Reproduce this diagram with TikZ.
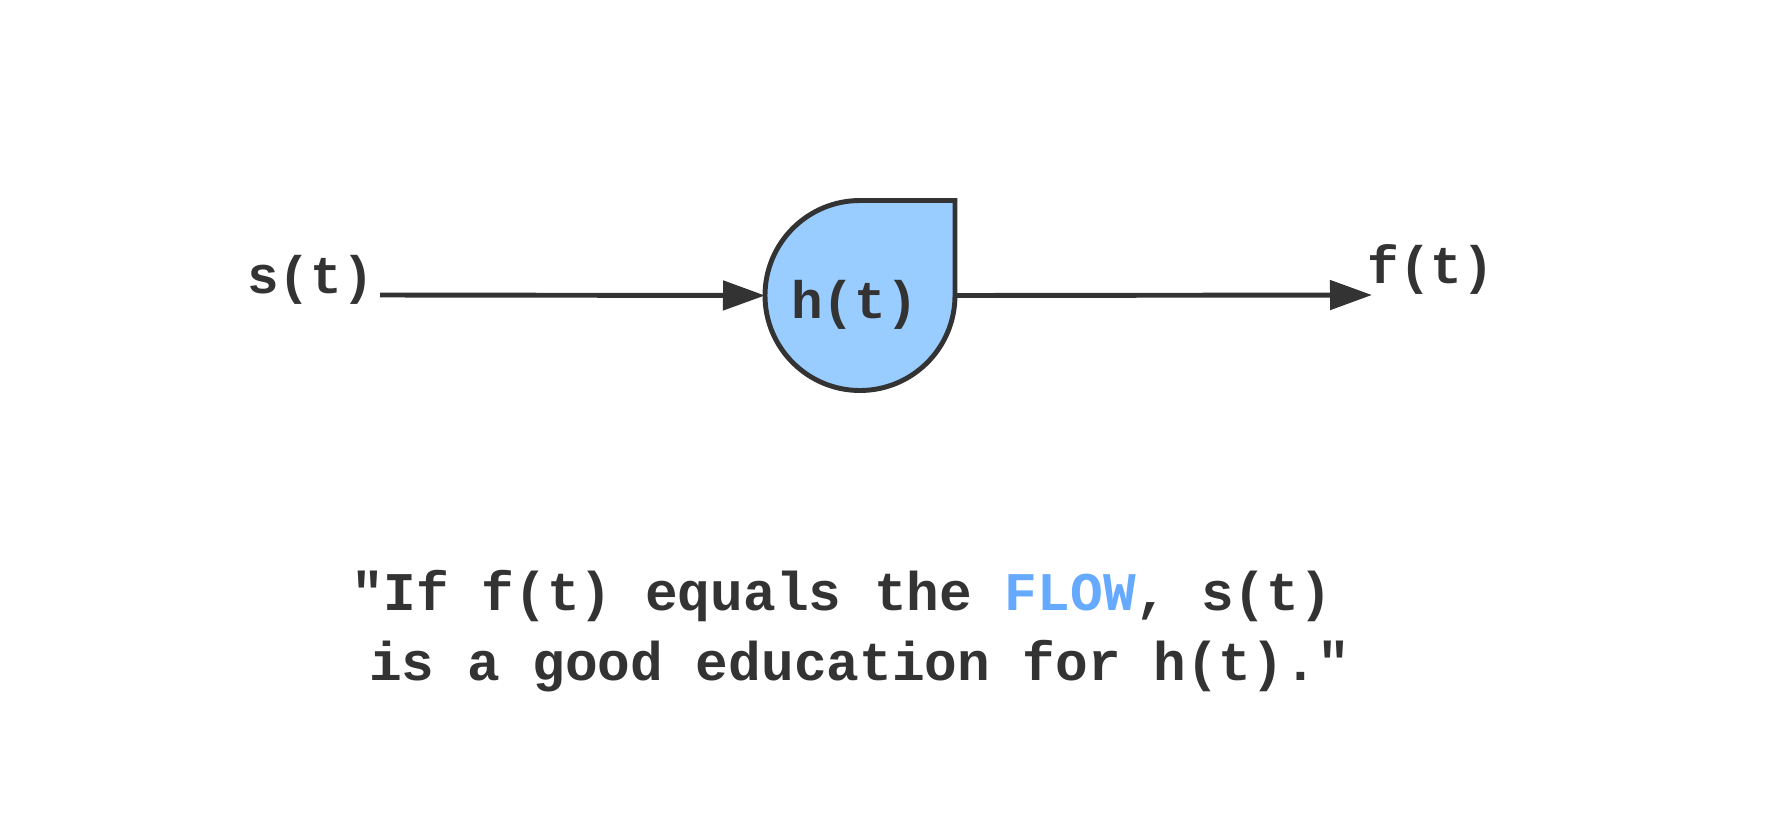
\documentclass[tikz,border=0pt]{standalone}
\usepackage{fontspec}
\usepackage{tikz}
\usetikzlibrary{arrows.meta}
\newfontfamily\codefont{Liberation Mono}
\definecolor{inkgray}{HTML}{333333}
\definecolor{blockblue}{HTML}{99CCFF}
\definecolor{flowblue}{HTML}{66AAFF}

\begin{document}
\begin{tikzpicture}
  \useasboundingbox (0,0) rectangle (17.71,8.27);
  \tikzstyle{TextStyle}=[inkgray,anchor=base,inner sep=0pt,font=\codefont\bfseries\fontsize{15}{18}\selectfont]
  \tikzstyle{QuoteStyle}=[TextStyle,font=\codefont\bfseries\fontsize{15.5}{19}\selectfont]
  \tikzstyle{EdgeStyle}=[->,>={Triangle[length=4.2mm,width=2.9mm]},inkgray,line width=1.4pt]
  \tikzstyle{BlockStyle}=[fill=blockblue,draw=inkgray,line width=1.4pt,line join=miter]
  \node[circle,minimum size=1.9cm,inner sep=0pt,outer sep=0pt] (h) at (8.60,5.315) {};
  \draw[BlockStyle] (h.north) -- ++(0.95,0) -- ++(0,-0.95)
    arc[start angle=0,end angle=-180,radius=0.95]
    arc[start angle=180,end angle=90,radius=0.95] -- cycle;
  \node[TextStyle] (hlabel) at (8.545,5.09) {h(t)};
  \node[TextStyle] (s) at (3.105,5.34) {s(t)};
  \node[TextStyle] (f) at (14.31,5.44) {f(t)};
  \coordinate (src) at (3.80,5.32);
  \coordinate (dst) at (13.72,5.32);
  \draw[EdgeStyle] (src) -- (h.west);
  \draw[EdgeStyle] (h.east) -- (dst);
  \node[QuoteStyle] (quote1) at (8.415,2.17) {"If f(t) equals the \textcolor{flowblue}{FLOW}, s(t)};
  \node[QuoteStyle] (quote2) at (8.595,1.47) {is a good education for h(t)."};
\end{tikzpicture}
\end{document}
